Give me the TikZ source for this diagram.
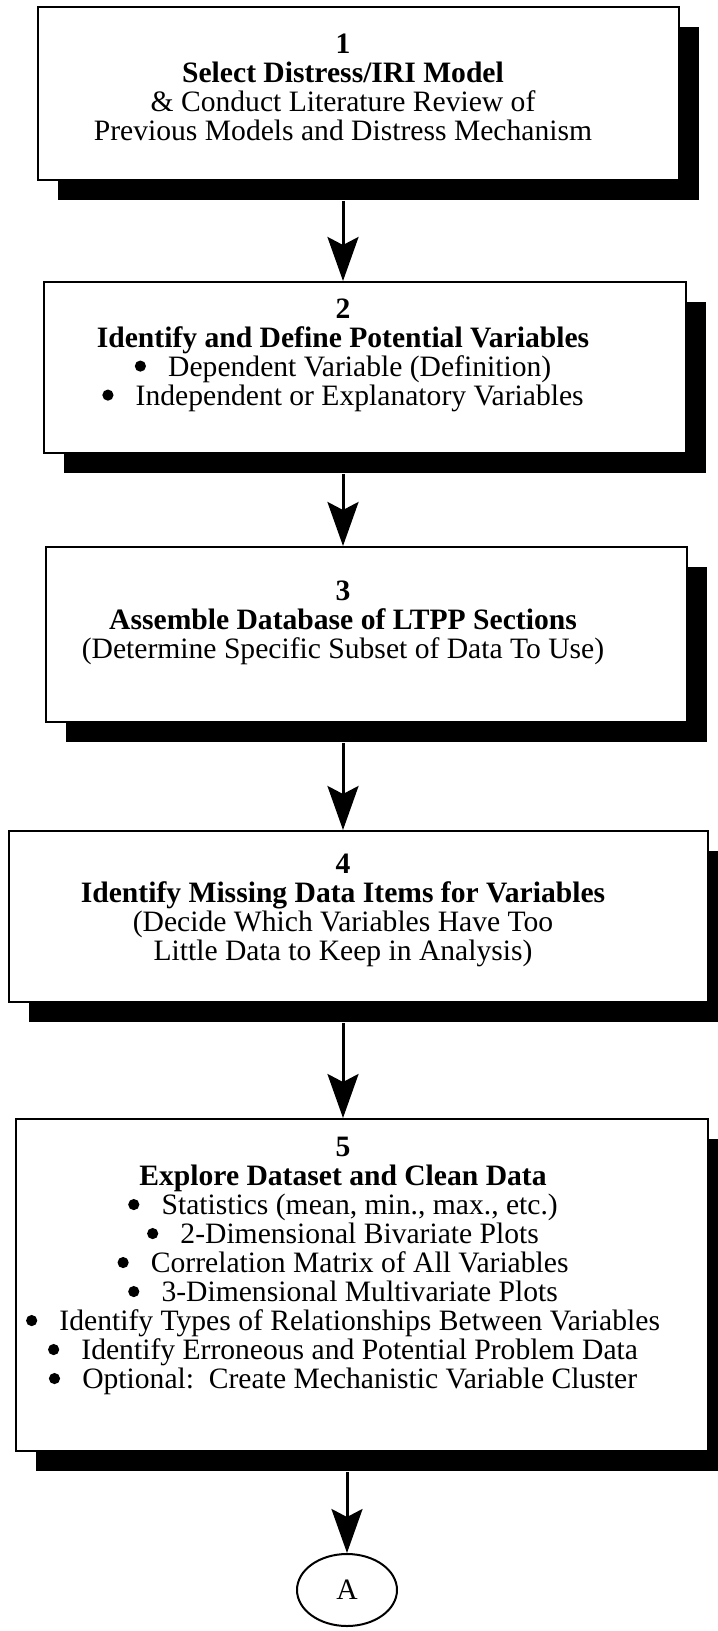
\documentclass[tikz,border=0pt]{standalone}
\usepackage{fontspec}
\setmainfont{Liberation Serif}
\usetikzlibrary{arrows.meta,positioning,calc,shadows,shapes.geometric}
\newcommand{\itm}{\raisebox{2.2pt}{\tikz\fill (0,0) circle (2.8pt);}\hspace{0.75em}}

\begin{document}
\begin{tikzpicture}[
  x=0.5pt,y=-0.5pt,
  box/.style={draw,line width=1pt,fill=white,inner sep=0pt,
    drop shadow={shadow xshift=10pt,shadow yshift=-10pt,fill=black,opacity=1}},
  txt/.style={align=center,inner sep=0pt,font=\fontsize{14.8}{14.5}\selectfont},
  flow/.style={line width=1.5pt,-{Stealth[length=22pt,width=15.5pt,inset=4pt]}}
]
\useasboundingbox (0,0) rectangle (717,1631);
% the boxes
\node[box,minimum width=320.5pt,minimum height=86.5pt] (b1) at (358.5,93.5) {};
\node[box,minimum width=321pt,minimum height=85.5pt] (b2) at (365,367.5) {};
\node[box,minimum width=320.5pt,minimum height=87.5pt] (b3) at (366.5,634.5) {};
\node[box,minimum width=349.5pt,minimum height=85.5pt] (b4) at (358.5,916.5) {};
\node[box,minimum width=346pt,minimum height=166pt] (b5) at (362,1285) {};
% the texts
\node[txt] (t1) at (343,87) {\textbf{1}\\\textbf{Select Distress/IRI Model}\\
  \& Conduct Literature Review of\\Previous Models and Distress Mechanism};
\node[txt] (t2) at (343,355) {\textbf{2}\\\textbf{Identify and Define Potential Variables}\\
  \itm Dependent Variable (Definition)\\\itm Independent or Explanatory Variables};
\node[txt] (t3) at (343,623) {\textbf{3}\\\textbf{Assemble Database of LTPP Sections}\\
  (Determine Specific Subset of Data To Use)};
\node[txt] (t4) at (343,910) {\textbf{4}\\\textbf{Identify Missing Data Items for Variables}\\
  (Decide Which Variables Have Too\\Little Data to Keep in Analysis)};
\node[txt] (t5) at (343,1266) {\textbf{5}\\\textbf{Explore Dataset and Clean Data}\\
  \itm Statistics (mean, min., max., etc.)\\
  \itm 2-Dimensional Bivariate Plots\\
  \itm Correlation Matrix of All Variables\\
  \itm 3-Dimensional Multivariate Plots\\
  \itm Identify Types of Relationships Between Variables\\
  \itm Identify Erroneous and Potential Problem Data\\
  \itm Optional:\ \ Create Mechanistic Variable Cluster};
% the connector
\node[draw,ellipse,line width=1pt,minimum width=50pt,minimum height=36pt,inner sep=0pt,
  font=\fontsize{14.8}{14.5}\selectfont] (a) at (347,1590) {A};
% the flow
\draw[flow] ($(b1.south -| t1)+(0,20)$) -- (b2.north -| t1);
\draw[flow] ($(b2.south -| t2)+(0,20)$) -- (b3.north -| t2);
\draw[flow] ($(b3.south -| t3)+(0,20)$) -- (b4.north -| t3);
\draw[flow] ($(b4.south -| t4)+(0,20)$) -- (b5.north -| t4);
\draw[flow] ($(b5.south -| a)+(0,20)$) -- (a.north);
\end{tikzpicture}
\end{document}
